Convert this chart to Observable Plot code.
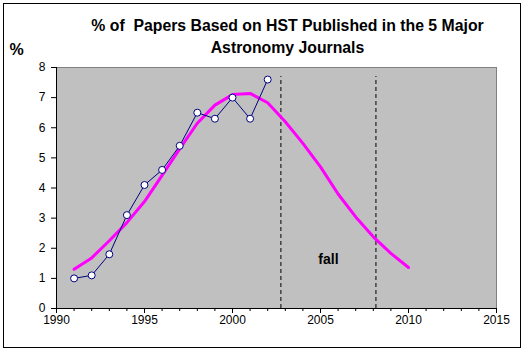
<!DOCTYPE html>
<html>
<head>
<meta charset="utf-8">
<script src="https://cdn.jsdelivr.net/npm/d3@7"></script>
<script src="https://cdn.jsdelivr.net/npm/@observablehq/plot@0.6"></script>
<style>
  html, body { margin: 0; padding: 0; background: #fff; }
  #wrap { position: relative; width: 527px; height: 354px; }
  #border { position: absolute; left: 3px; top: 3px; width: 518px; height: 345px; box-sizing: border-box; border: 1px solid #000; pointer-events: none; }
  svg { font-family: "Liberation Sans", Arial, sans-serif; }
</style>
</head>
<body>
<div id="wrap"><div id="border"></div></div>
<script>
// Data
const years = [1991, 1992, 1993, 1994, 1995, 1996, 1997, 1998, 1999, 2000, 2001, 2002];
const papersPct = [1.0, 1.1, 1.8, 3.1, 4.1, 4.6, 5.4, 6.5, 6.3, 7.0, 6.3, 7.6];

const fitYears = [1991, 1992, 1993, 1994, 1995, 1996, 1997, 1998, 1999, 2000,
                  2001, 2002, 2003, 2004, 2005, 2006, 2007, 2008, 2009, 2010];
const fitPct = [1.30, 1.68, 2.25, 2.85, 3.55, 4.42, 5.30, 6.15, 6.75, 7.10,
                7.14, 6.83, 6.20, 5.48, 4.70, 3.80, 3.04, 2.38, 1.83, 1.36];

const dashedYears = [2002.75, 2008.15];
const xTicks = [1990, 1995, 2000, 2005, 2010, 2015];
const xMinorTicks = [1990, 1991, 1992, 1993, 1994, 1995, 1996, 1997, 1998, 1999, 2000, 2001, 2002,
                     2003, 2004, 2005, 2006, 2007, 2008, 2009, 2010, 2011, 2012, 2013, 2014, 2015];
const yTicks = [0, 1, 2, 3, 4, 5, 6, 7, 8];

const titleLine1 = "% of  Papers Based on HST Published in the 5 Major";
const titleLine2 = "Astronomy Journals";
const yLabel = "%";
const annotation = {text: "fall", x: 2005.45, y: 1.63};

const observed = years.map((x, i) => ({x, y: papersPct[i]}));
const fit = fitYears.map((x, i) => ({x, y: fitPct[i]}));

const chart = Plot.plot({
  width: 527,
  height: 354,
  marginLeft: 56,
  marginRight: 31,
  marginTop: 67,
  marginBottom: 46,
  style: {background: "transparent", overflow: "visible", fontFamily: "'Liberation Sans', Arial, sans-serif"},
  x: {domain: [1990, 2015]},
  y: {domain: [0, 8]},
  marks: [
    Plot.frame({fill: "#c0c0c0", stroke: "#808080"}),
    Plot.axisX({ticks: xMinorTicks, tickSize: 3, tickFormat: () => "", stroke: "#000", label: null}),
    Plot.axisX({ticks: xTicks, tickSize: 5, tickPadding: 2, tickFormat: d => String(d), fontSize: 12, fill: "#000", stroke: "#000", label: null}),
    Plot.axisY({ticks: yTicks, tickSize: 5, tickPadding: 6, fontSize: 12, fill: "#000", stroke: "#000", label: null}),
    Plot.ruleY([0], {stroke: "#000"}),
    Plot.ruleX([1990], {stroke: "#000"}),
    Plot.ruleX(dashedYears, {y1: 0, y2: 7.7, stroke: "#000", strokeDasharray: "4,3", strokeWidth: 1}),
    Plot.line(fit, {x: "x", y: "y", stroke: "#ff00ff", strokeWidth: 3, curve: "linear"}),
    Plot.line(observed, {x: "x", y: "y", stroke: "#000080", strokeWidth: 1}),
    Plot.dot(observed, {x: "x", y: "y", r: 3.5, fill: "#fff", stroke: "#000080", strokeWidth: 1}),
    Plot.text([annotation], {x: "x", y: "y", text: "text", fontWeight: "bold", fontSize: 14, fill: "#000"}),
    Plot.text([titleLine1], {text: d => d, frameAnchor: "top", dx: 11, dy: -42, lineAnchor: "middle", fontWeight: "bold", fontSize: 15.8, fill: "#000"}),
    Plot.text([titleLine2], {text: d => d, frameAnchor: "top", dx: 11, dy: -20, lineAnchor: "middle", fontWeight: "bold", fontSize: 15.8, fill: "#000"}),
    Plot.text([yLabel], {text: d => d, frameAnchor: "top-left", dx: -40, dy: -18, textAnchor: "middle", lineAnchor: "middle", fontWeight: "bold", fontSize: 16, fill: "#000"})
  ]
});
chart.style.position = "absolute";
chart.style.left = "0";
chart.style.top = "0";
document.getElementById("wrap").appendChild(chart);
</script>
</body>
</html>
